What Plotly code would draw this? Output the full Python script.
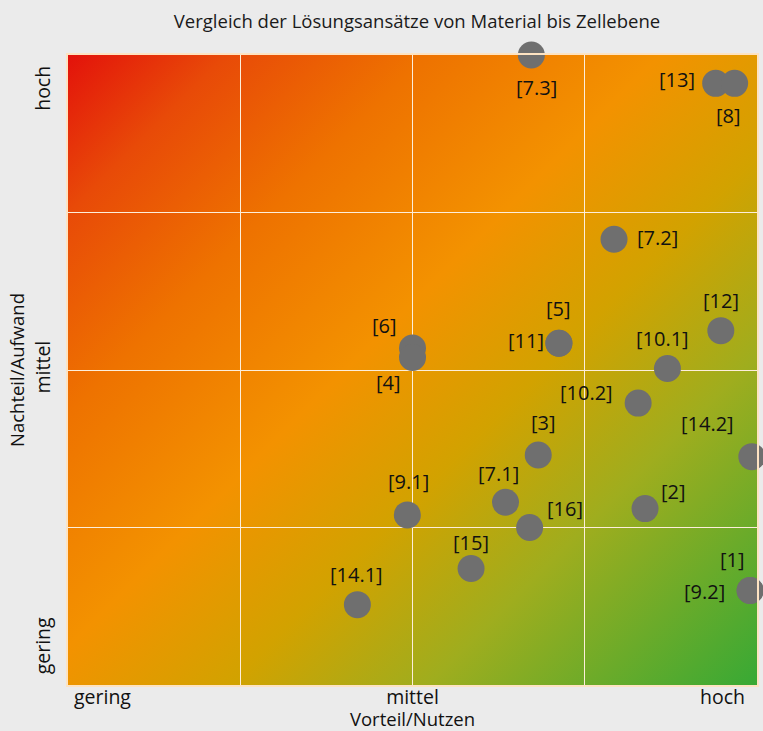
import plotly.graph_objects as go
import urllib.parse

# ---- data (axes run 0..4) ----
labels = ["[7.3]", "[13]", "[8]", "[7.2]", "[12]", "[6]", "[4]", "[5]", "[11]",
          "[10.1]", "[10.2]", "[14.2]", "[3]", "[7.1]", "[16]", "[9.1]", "[2]",
          "[15]", "[14.1]", "[1]", "[9.2]"]
nutzen = [2.69, 3.76, 3.87, 3.17, 3.79, 2.00, 2.00, 2.85, 2.85,
          3.48, 3.31, 3.97, 2.73, 2.54, 2.68, 1.97, 3.35,
          2.34, 1.68, 3.96, 3.96]
aufwand = [4.00, 3.82, 3.82, 2.83, 2.25, 2.14, 2.08, 2.17, 2.17,
           2.01, 1.79, 1.45, 1.46, 1.16, 1.00, 1.08, 1.12,
           0.74, 0.51, 0.60, 0.60]

x_tick_vals = [0.2, 2, 3.8]
y_tick_vals = [0.23, 2, 3.77]
tick_text = ["gering", "mittel", "hoch"]
grid_vals = [1, 2, 3]

# label offsets in pixels (style only)
label_dx = [5, -39, -6, 43, 0, -28, -24, 0, -33, -5, -52, -44, 5, -7, 35, 1, 28, 0, -1, -18, -46]
label_dy = [-32, 4, -32, 2, 30, 22, -25, 35, 3, 30, 11, 33, 33, 29, 19, 33, 17, 26, 30, 31, -1]

FONT = "Open Sans"

# background gradient (red top-left -> orange -> green bottom-right)
W, H = 689, 630
stops = [(0.0, "#e3120b"), (0.12, "#e84a08"), (0.27, "#ee7200"), (0.45, "#f39200"),
         (0.60, "#d2a200"), (0.75, "#9fad1e"), (1.0, "#38a935")]
stop_svg = "".join(f'<stop offset="{o}" stop-color="{c}"/>' for o, c in stops)
half = (W + H) / 2
svg = (f'<svg xmlns="http://www.w3.org/2000/svg" width="{W}" height="{H}" '
       f'viewBox="0 0 {W} {H}" preserveAspectRatio="none">'
       f'<defs><linearGradient id="g" gradientUnits="userSpaceOnUse" x1="0" y1="0" '
       f'x2="{half}" y2="{half}">{stop_svg}</linearGradient></defs>'
       f'<rect x="0" y="0" width="{W}" height="{H}" fill="url(#g)"/></svg>')
svg_uri = "data:image/svg+xml;charset=utf-8," + urllib.parse.quote(svg)

fig = go.Figure()
fig.add_trace(go.Scatter(
    x=nutzen, y=aufwand, mode="markers",
    marker=dict(size=27, color="#6f6f6f", line=dict(width=0)),
    cliponaxis=False, hoverinfo="skip", showlegend=False,
))

for lab, xv, yv, dx, dy in zip(labels, nutzen, aufwand, label_dx, label_dy):
    fig.add_annotation(x=xv, y=yv, text=lab, showarrow=False,
                       xshift=dx, yshift=dy,
                       font=dict(family=FONT, size=20, color="#111111"))

fig.add_layout_image(dict(source=svg_uri, xref="x", yref="y", x=0, y=4,
                          sizex=4, sizey=4, sizing="stretch", layer="below",
                          xanchor="left", yanchor="top"))

axis_common = dict(range=[0, 4], showgrid=False, zeroline=False, ticks="",
                   showline=True, mirror=True, linecolor="#fde3c2", linewidth=2,
                   ticktext=tick_text, tickmode="array",
                   tickfont=dict(family=FONT, size=19.5, color="#111111"),
                   minor=dict(tickmode="array", tickvals=grid_vals, showgrid=True,
                              gridcolor="#fdeedb", gridwidth=1.3, ticks=""))

fig.update_xaxes(**axis_common, tickvals=x_tick_vals, ticklabelstandoff=-6,
                 title=dict(text="Vorteil/Nutzen", standoff=3,
                            font=dict(family=FONT, size=18.5, color="#111111")))
fig.update_yaxes(**axis_common, tickvals=y_tick_vals, tickangle=-90,
                 ticklabelstandoff=8,
                 title=dict(text="Nachteil/Aufwand", standoff=0,
                            font=dict(family=FONT, size=18.5, color="#111111")))

fig.update_layout(
    width=763, height=731,
    margin=dict(l=68, r=6, t=55, b=46, autoexpand=False),
    paper_bgcolor="#ebebeb", plot_bgcolor="#f39200",
    title=dict(text="Vergleich der Lösungsansätze von Material bis Zellebene",
               x=0.5465, xanchor="center", y=0.97, yanchor="middle",
               font=dict(family=FONT, size=18.5, color="#1a1a1a")),
)

fig.write_html("out.html",
               config={"displayModeBar": False},
               post_script="document.body.style.margin='0';"
                           "document.body.style.background='#ebebeb';")
